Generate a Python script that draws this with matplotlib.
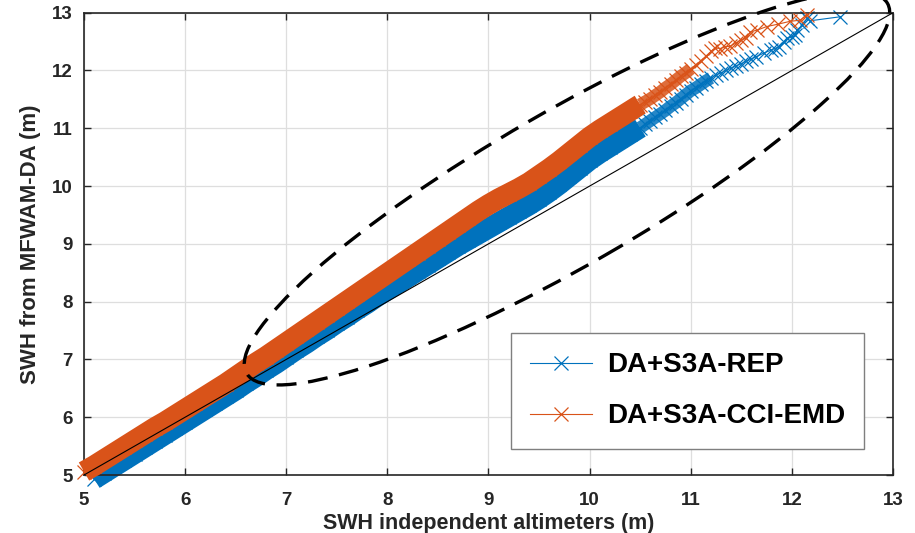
import matplotlib
matplotlib.use("Agg")
import matplotlib.pyplot as plt
from matplotlib.patches import Ellipse

plt.rcParams['font.family'] = ['Liberation Sans', 'DejaVu Sans']
plt.rcParams['font.weight'] = 'bold'

# quantiles: SWH independent altimeters (x) vs SWH from MFWAM-DA (y)
rep_x = [5.1, 5.2, 5.3, 5.4, 5.5, 5.6, 5.7, 5.8, 5.9, 6.0,
         6.1, 6.2, 6.3, 6.4, 6.5, 6.6, 6.7, 6.8, 6.9, 7.0,
         7.1, 7.2, 7.3, 7.4, 7.5, 7.6, 7.7, 7.8, 7.9, 8.0,
         8.1, 8.2, 8.3, 8.4, 8.5, 8.6, 8.7, 8.8, 8.9, 9.0,
         9.1, 9.2, 9.3, 9.4, 9.5, 9.6, 9.7, 9.8, 9.9, 10.0,
         10.1, 10.2, 10.3, 10.4, 10.5,
         10.55, 10.6, 10.65, 10.7, 10.75, 10.8, 10.85, 10.9, 10.95, 11.0,
         11.05, 11.1, 11.15, 11.2, 11.25, 11.3, 11.35, 11.4, 11.45, 11.5,
         11.55, 11.6, 11.65, 11.72, 11.79, 11.83, 11.87, 11.92, 11.95, 12.0,
         12.03, 12.05, 12.1, 12.15, 12.18, 12.48]
rep_y = [4.93, 5.04, 5.15, 5.26, 5.37, 5.48, 5.59, 5.70, 5.81, 5.92,
         6.03, 6.14, 6.25, 6.36, 6.47, 6.59, 6.70, 6.82, 6.93, 7.05,
         7.17, 7.28, 7.40, 7.51, 7.63, 7.74, 7.86, 7.97, 8.09, 8.20,
         8.31, 8.42, 8.53, 8.64, 8.75, 8.86, 8.97, 9.07, 9.17, 9.27,
         9.37, 9.47, 9.57, 9.67, 9.78, 9.90, 10.03, 10.17, 10.31, 10.45,
         10.57, 10.68, 10.79, 10.90, 11.01,
         11.07, 11.13, 11.19, 11.25, 11.31, 11.38, 11.44, 11.51, 11.58, 11.65,
         11.70, 11.76, 11.82, 11.87, 11.92, 11.96, 12.00, 12.04, 12.08, 12.12,
         12.16, 12.20, 12.24, 12.30, 12.35, 12.38, 12.41, 12.50, 12.56, 12.58,
         12.61, 12.70, 12.78, 12.90, 12.86, 12.93]

cci_x = [5.0, 5.1, 5.2, 5.3, 5.4, 5.5, 5.6, 5.7, 5.8, 5.9,
         6.0, 6.1, 6.2, 6.3, 6.4, 6.5, 6.6, 6.7, 6.8, 6.9,
         7.0, 7.1, 7.2, 7.3, 7.4, 7.5, 7.6, 7.7, 7.8, 7.9,
         8.0, 8.1, 8.2, 8.3, 8.4, 8.5, 8.6, 8.7, 8.8, 8.9,
         9.0, 9.1, 9.2, 9.3, 9.4, 9.5, 9.6, 9.7, 9.8, 9.9,
         10.0, 10.1, 10.2, 10.3, 10.4, 10.5,
         10.55, 10.6, 10.65, 10.7, 10.75, 10.8, 10.85, 10.9, 10.95, 11.0,
         11.05, 11.1, 11.15, 11.2, 11.24, 11.29, 11.34, 11.39, 11.45, 11.5,
         11.55, 11.59, 11.66, 11.75, 11.86, 11.98, 12.08, 12.15]
cci_y = [5.06, 5.16, 5.27, 5.38, 5.49, 5.60, 5.71, 5.82, 5.92, 6.03,
         6.14, 6.25, 6.36, 6.47, 6.58, 6.70, 6.82, 6.94, 7.05, 7.17,
         7.29, 7.41, 7.53, 7.65, 7.77, 7.89, 8.01, 8.13, 8.25, 8.37,
         8.49, 8.61, 8.73, 8.85, 8.97, 9.09, 9.21, 9.33, 9.45, 9.57,
         9.68, 9.78, 9.87, 9.96, 10.06, 10.18, 10.30, 10.43, 10.57, 10.71,
         10.85, 10.97, 11.08, 11.19, 11.30, 11.41,
         11.46, 11.51, 11.57, 11.63, 11.70, 11.76, 11.83, 11.90, 11.96, 12.03,
         12.10, 12.17, 12.25, 12.33, 12.39, 12.38, 12.41, 12.42, 12.48, 12.53,
         12.56, 12.67, 12.70, 12.76, 12.80, 12.85, 12.87, 12.96]

ref_line = [5, 13]
ticks = [5, 6, 7, 8, 9, 10, 11, 12, 13]
labels = ['DA+S3A-REP', 'DA+S3A-CCI-EMD']
blue = '#0072BD'
orange = '#D95319'

fig = plt.figure(figsize=(9.15, 5.33), dpi=100)
ax = fig.add_axes([84 / 915, 1 - 475 / 533, 809 / 915, 462.3 / 533])

# dense part of the quantile cloud drawn as a solid band, thinner where it gets ragged
n_rep = rep_x.index(10.5) + 1
n_cci = cci_x.index(10.5) + 1
m_rep = rep_x.index(11.2) + 1
m_cci = cci_x.index(11.0) + 1
ax.plot(rep_x[:n_rep], rep_y[:n_rep], color=blue, lw=15, solid_capstyle='butt',
        clip_on=False, zorder=2)
ax.plot(rep_x[n_rep - 1:m_rep], rep_y[n_rep - 1:m_rep], color=blue, lw=9,
        solid_capstyle='butt', alpha=0.85, zorder=2)
l1, = ax.plot(rep_x, rep_y, color=blue, lw=0.8, marker='x', ms=10, mew=0.9,
              clip_on=False, zorder=2, label=labels[0])
ax.plot(cci_x[:n_cci], cci_y[:n_cci], color=orange, lw=15, solid_capstyle='butt',
        clip_on=False, zorder=3)
ax.plot(cci_x[n_cci - 1:m_cci], cci_y[n_cci - 1:m_cci], color=orange, lw=9,
        solid_capstyle='butt', alpha=0.85, zorder=3)
l2, = ax.plot(cci_x, cci_y, color=orange, lw=0.8, marker='x', ms=10, mew=0.9,
              clip_on=False, zorder=3, label=labels[1])
ax.plot(ref_line, ref_line, color='black', lw=0.8, zorder=4)

ax.set_xlim(5, 13)
ax.set_ylim(5, 13)
ax.set_xticks(ticks)
ax.set_yticks(ticks)
ax.grid(True, color='#dedede', lw=0.9)
ax.set_axisbelow(True)
ax.tick_params(direction='in', length=5, width=1, top=True, right=True,
               labelsize=13.5, colors='#262626')
ax.tick_params(axis='x', pad=12)
ax.tick_params(axis='y', pad=8)
for s in ax.spines.values():
    s.set_color('#262626')
    s.set_linewidth(1.2)

ax.set_xlabel('SWH independent altimeters (m)', fontsize=15.5, fontweight='bold',
              labelpad=3, color='#262626')
ax.set_ylabel('SWH from MFWAM-DA (m)', fontsize=16, fontweight='bold',
              labelpad=8, color='#262626')

leg = ax.legend(handles=[l1, l2], loc='upper left',
                bbox_to_anchor=(511 / 915, 1 - 333 / 533),
                bbox_transform=fig.transFigure, borderaxespad=0,
                prop={'size': 20, 'weight': 'bold'}, handlelength=2.2,
                handletextpad=0.55, borderpad=0.7, labelspacing=0.9,
                fancybox=False, framealpha=1, edgecolor='#7f7f7f')
leg.get_frame().set_linewidth(1.0)

# dashed ellipse highlighting the upper quantiles
ell = Ellipse((5.67, 3.447), 7.40, 1.54, angle=30, fill=False, ec='black',
              lw=2.4, ls=(0, (6, 3.5)), transform=fig.dpi_scale_trans,
              clip_on=False, zorder=5)
fig.add_artist(ell)

fig.savefig('out.png', dpi=100)
